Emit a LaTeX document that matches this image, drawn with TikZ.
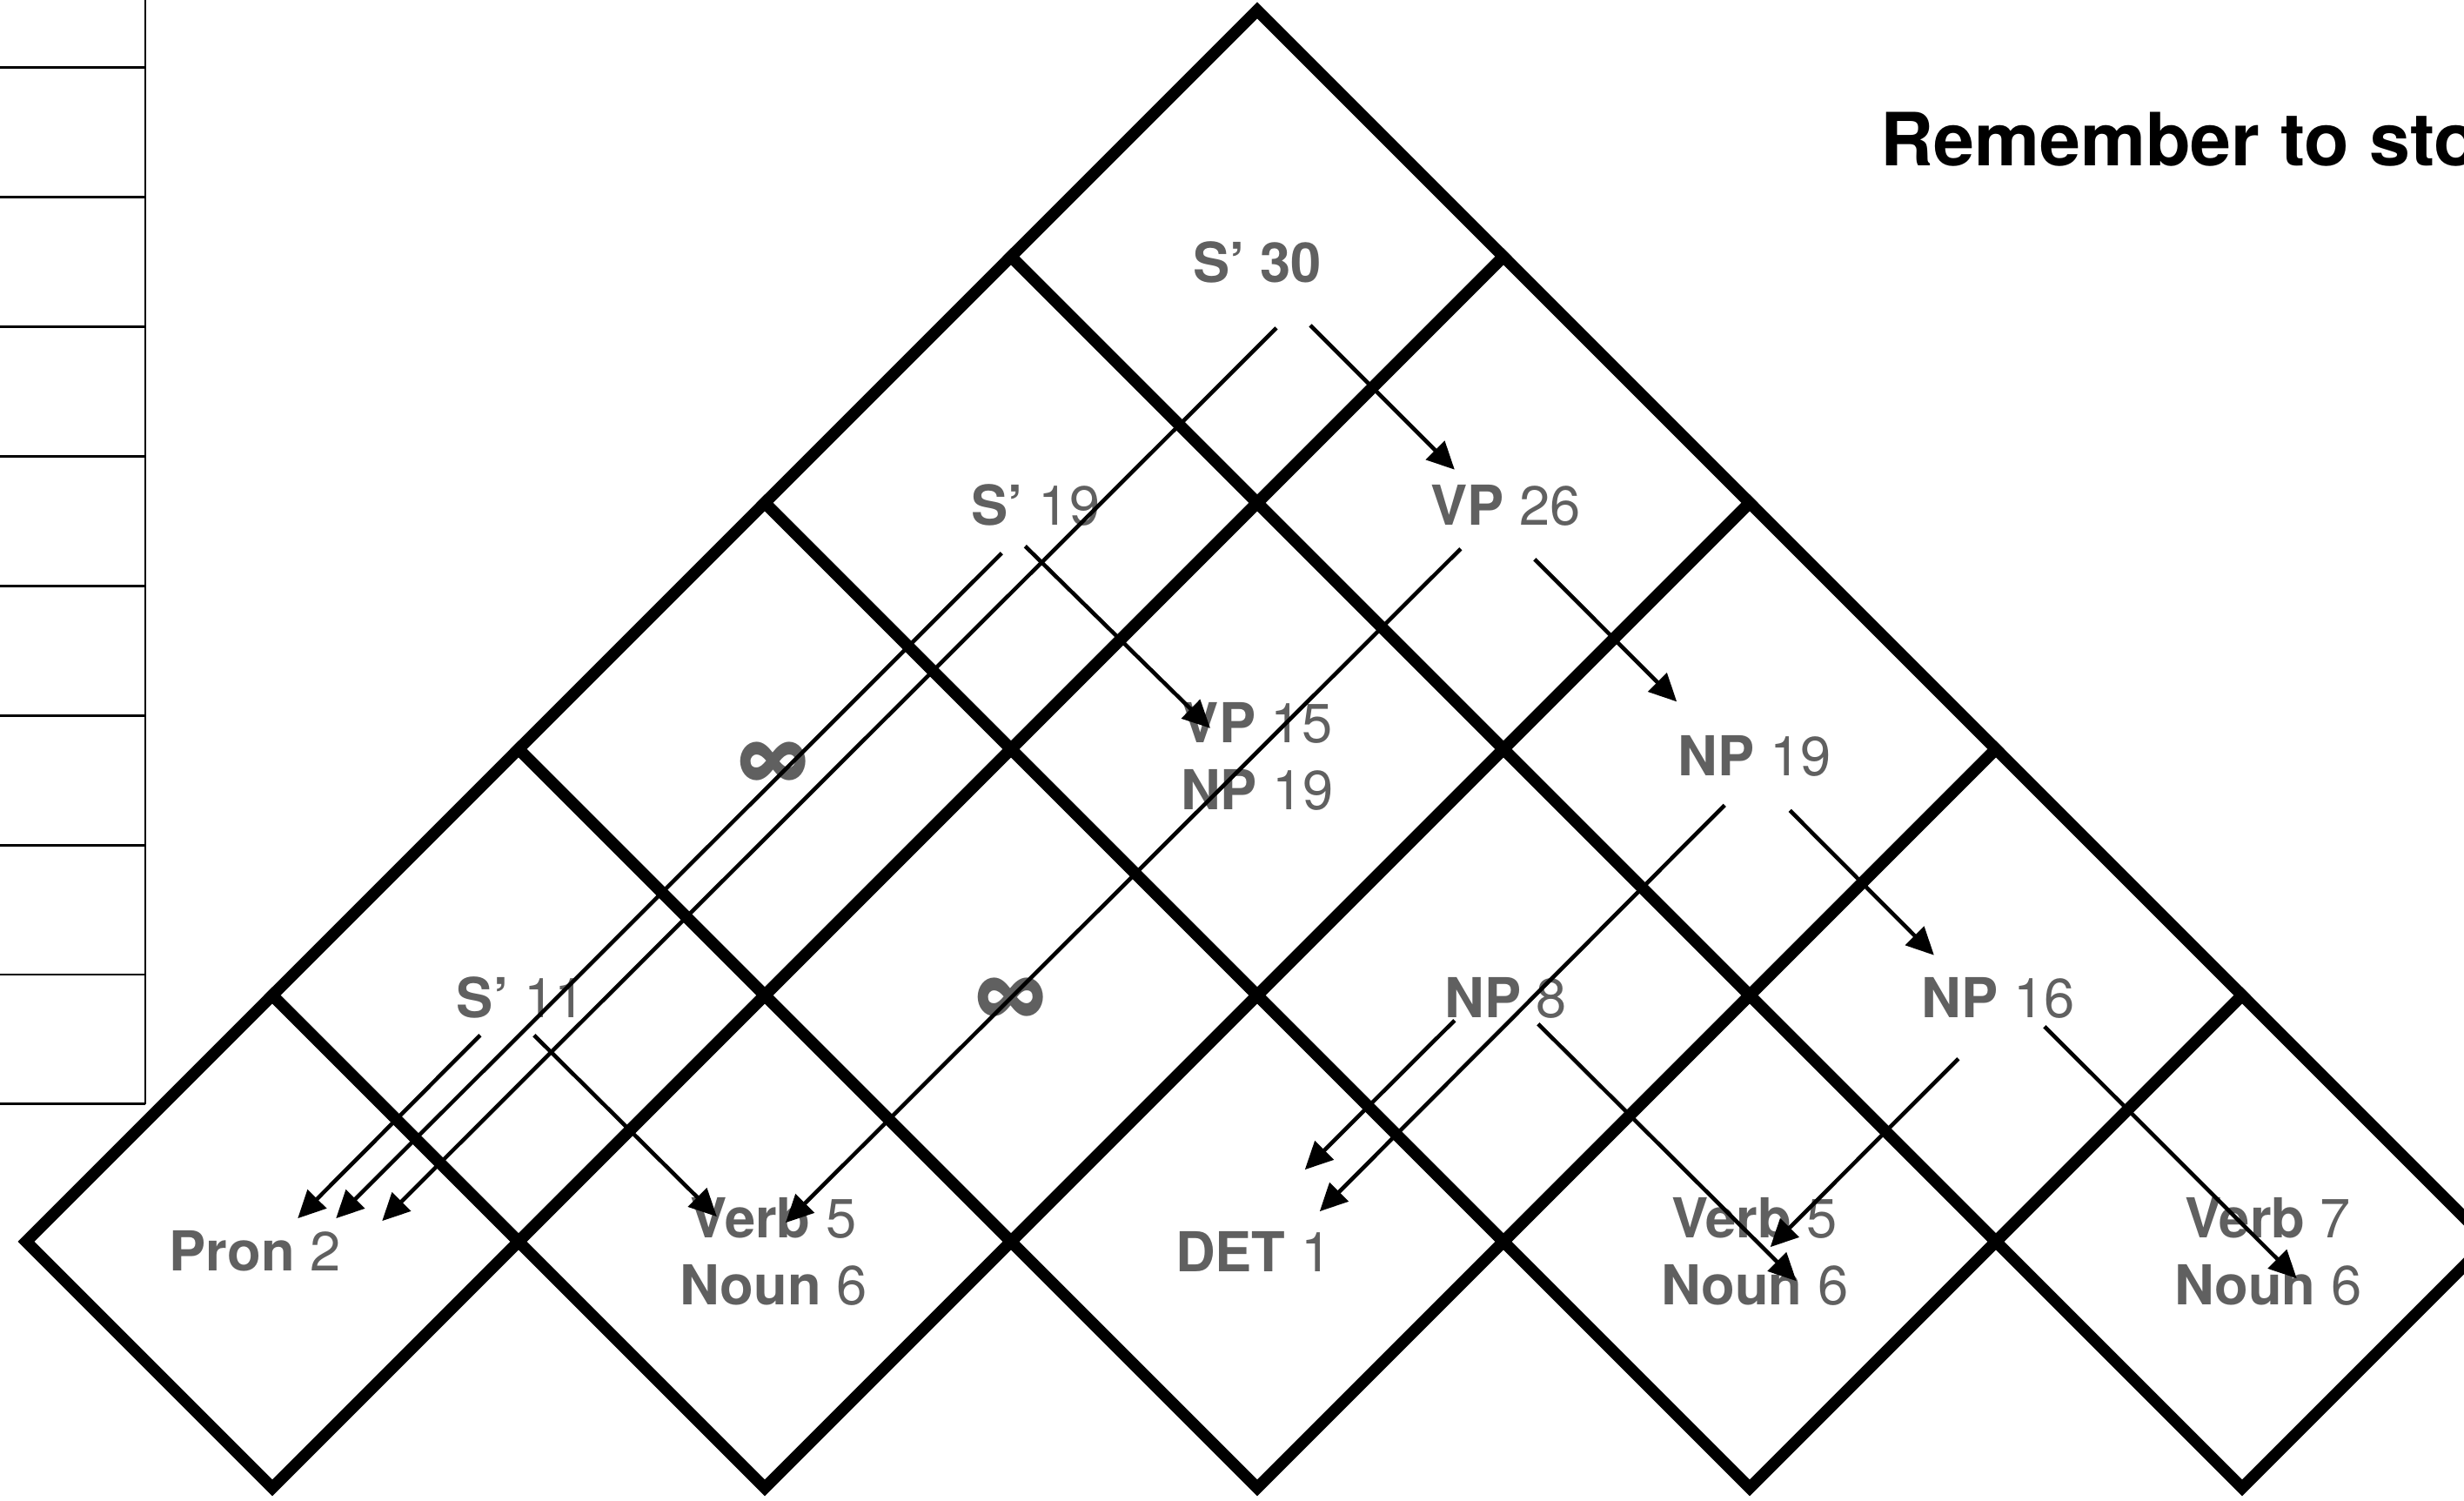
\documentclass[tikz,border=0pt]{standalone}
\usepackage{fontspec}
\usepackage{xcolor}
\usepackage{tikz}
\usetikzlibrary{arrows.meta}
\newfontfamily\heros{TeX Gyre Heros}
\definecolor{lblgray}{RGB}{96,96,96}

\begin{document}
\begin{tikzpicture}[
      >={Triangle[length=9pt,width=8.5pt]},
      x=2.83cm, y=2.83cm,
      cell/.style={line width=3.8pt},
      tab/.style={line width=0.8pt},
      lbl/.style={font=\heros\fontsize{18}{21.8}\selectfont, text=lblgray, align=center, inner sep=0pt},
      inf/.style={font=\heros\bfseries\fontsize{30}{30}\selectfont, text=lblgray, inner sep=0pt},
      arr/.style={->, line width=1.3pt}
    ]
    \useasboundingbox (-1.106,-1.053) rectangle (8.901,5.042);

    % Tabella a sinistra
    \draw[tab] (-0.516,5.2) -- (-0.516,0.558);
    \foreach \k in {0,...,8} \draw[tab] (-1.2,4.767-0.5261*\k) -- (-0.516,4.767-0.5261*\k);

    % Celle a rombo
    \foreach \r in {0,...,4} {
      \pgfmathtruncatemacro{\last}{4-\r}
      \foreach \i in {0,...,\last} {
        \pgfmathsetmacro{\cx}{\r+2*\i}
        \draw[cell] (\cx-1,\r) -- (\cx,\r+1) -- (\cx+1,\r) -- (\cx,\r-1) -- cycle;
      }
    }

    % Nota
    \node[font=\heros\bfseries\fontsize{24}{28}\selectfont, anchor=base west, inner sep=0pt] (note) at (6.53,4.367) {Remember to sto};

    % Etichette
    \node[lbl] (s30) at (4.00,3.975) {\bfseries S’ 30};
    \node[lbl] (s19) at (3.10,2.99) {\textbf{S’} 19};
    \node[lbl] (vp26) at (5.01,2.99) {\textbf{VP} 26};
    \node[inf] (inf1) at (2.035,1.94) {∞};
    \node[lbl] (vp15) at (4.00,1.97) {\textbf{VP} 15\\\textbf{NP} 19};
    \node[lbl] (np19) at (6.02,1.97) {\textbf{NP} 19};
    \node[lbl] (s11) at (1.01,0.99) {\textbf{S’} 11};
    \node[inf] (inf2) at (3.00,0.98) {∞};
    \node[lbl] (np8) at (5.01,0.99) {\textbf{NP} 8};
    \node[lbl] (np16) at (7.01,0.99) {\textbf{NP} 16};
    \node[lbl] (pron) at (-0.07,-0.04) {\textbf{Pron} 2};
    \node[lbl] (verbA) at (2.035,-0.04) {\textbf{Verb} 5\\\textbf{Noun} 6};
    \node[lbl] (det) at (3.985,-0.04) {\textbf{DET} 1};
    \node[lbl] (verbB) at (6.02,-0.04) {\textbf{Verb} 5\\\textbf{Noun} 6};
    \node[lbl] (verbC) at (8.105,-0.04) {\textbf{Verb} 7\\\textbf{Noun} 6};

    % Frecce
    \draw[arr] ([shift={(0.61cm,-0.72cm)}]s30.center) -- ([shift={(-0.59cm,0.41cm)}]vp26.center);
    \draw[arr] ([shift={(0.22cm,-0.75cm)}]s30.center) -- ([shift={(1.46cm,0.35cm)}]pron.center);
    \draw[arr] ([shift={(-0.39cm,-0.55cm)}]s19.center) -- ([shift={(0.93cm,0.38cm)}]pron.center);
    \draw[arr] ([shift={(-0.12cm,-0.47cm)}]s19.center) -- ([shift={(-0.54cm,0.325cm)}]vp15.center);
    \draw[arr] ([shift={(-0.47cm,-0.43cm)}]s11.center) -- ([shift={(0.49cm,0.38cm)}]pron.center);
    \draw[arr] ([shift={(0.15cm,-0.43cm)}]s11.center) -- ([shift={(-0.65cm,0.40cm)}]verbA.center);
    \draw[arr] ([shift={(-0.52cm,-0.50cm)}]vp26.center) -- ([shift={(0.14cm,0.33cm)}]verbA.center);
    \draw[arr] ([shift={(0.33cm,-0.62cm)}]vp26.center) -- ([shift={(-0.895cm,0.63cm)}]np19.center);
    \draw[arr] ([shift={(-0.345cm,-0.56cm)}]np19.center) -- ([shift={(0.76cm,0.46cm)}]det.center);
    \draw[arr] ([shift={(0.405cm,-0.62cm)}]np19.center) -- ([shift={(-0.74cm,0.49cm)}]np16.center);
    \draw[arr] ([shift={(-0.59cm,-0.26cm)}]np8.center) -- ([shift={(0.59cm,0.94cm)}]det.center);
    \draw[arr] ([shift={(0.37cm,-0.30cm)}]np8.center) -- ([shift={(0.48cm,-0.34cm)}]verbB.center);
    \draw[arr] ([shift={(-0.46cm,-0.70cm)}]np16.center) -- ([shift={(0.18cm,0.05cm)}]verbB.center);
    \draw[arr] ([shift={(0.53cm,-0.33cm)}]np16.center) -- ([shift={(0.33cm,-0.31cm)}]verbC.center);
  \end{tikzpicture}
\end{document}
